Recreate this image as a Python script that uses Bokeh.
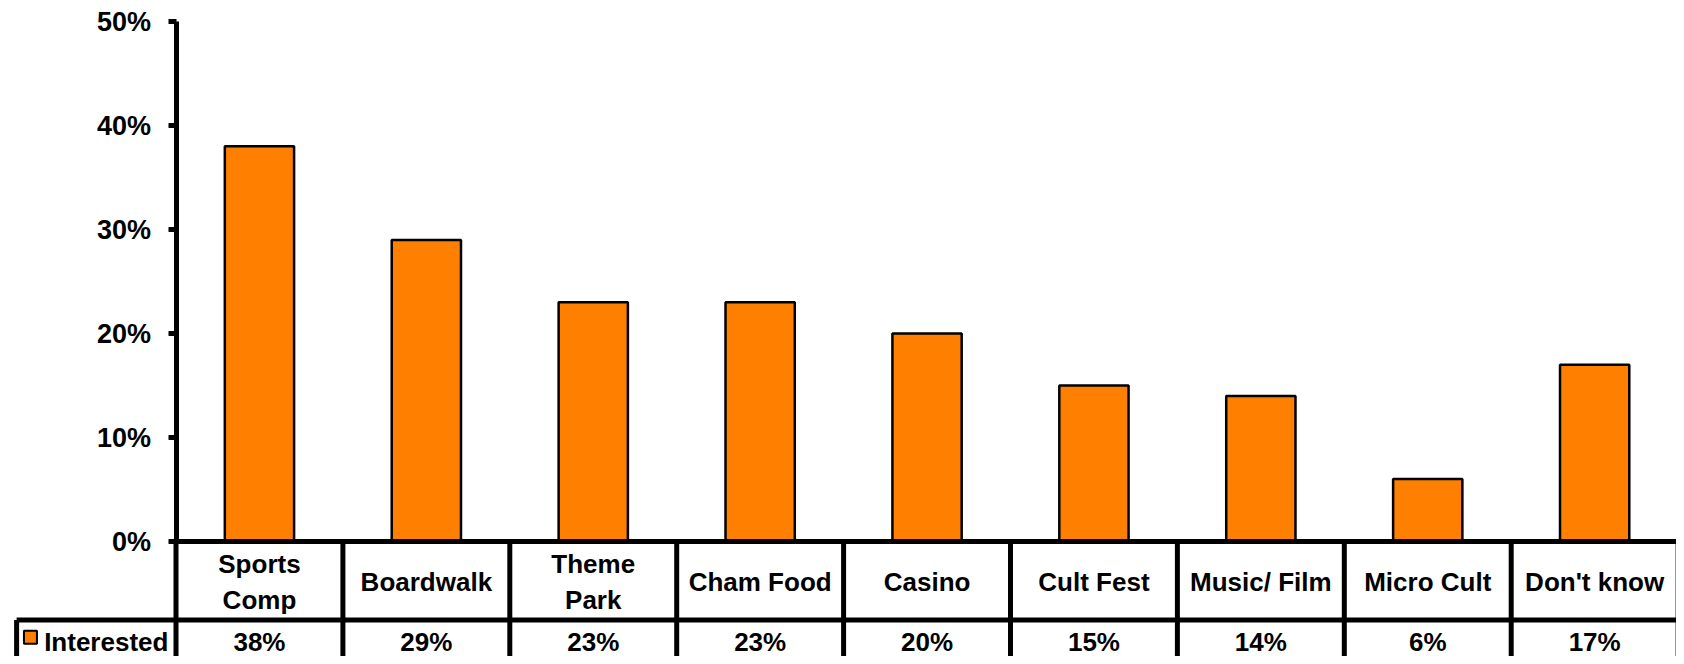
from bokeh.plotting import figure
from bokeh.models import LinearAxis, FixedTicker, CustomJSTickFormatter, Range1d
from bokeh.core.properties import value
from bokeh.embed import file_html
from bokeh.resources import INLINE

categories = ["Sports\nComp", "Boardwalk", "Theme\nPark", "Cham Food", "Casino",
              "Cult Fest", "Music/ Film", "Micro Cult", "Don't know"]
interested = [38, 29, 23, 23, 20, 15, 14, 6, 17]
value_labels = ["38%", "29%", "23%", "23%", "20%", "15%", "14%", "6%", "17%"]
y_ticks = [0, 10, 20, 30, 40, 50]
series_name = "Interested"

ORANGE = "#FF7F00"
FONT = value("Liberation Sans")
W, H = 1676, 656
COL = 166.9          # px per category column
X0 = 175.5           # px position of the value axis
Y0 = 541             # px position of 0 %
PPU = 10.4           # px per percent

p = figure(width=W, height=H, output_backend="svg", toolbar_location=None,
           x_axis_location=None, y_axis_location=None,
           x_range=Range1d(-X0 / COL, (W - X0) / COL),
           y_range=Range1d(-(H - Y0) / PPU, Y0 / PPU),
           min_border=0, outline_line_color=None)
p.grid.grid_line_color = None
p.background_fill_color = "white"
p.border_fill_color = "white"

n = len(categories)
centers = [i + 0.5 for i in range(n)]

# bars
p.vbar(x=centers, top=interested, bottom=0, width=0.415,
       fill_color=ORANGE, line_color="black", line_width=2.5)

# table geometry
row_split = -7.55
bottom = -(H - Y0) / PPU - 1
left_cell = -0.955
lw = 5
# baseline (top of table)
p.segment(x0=[0], y0=[0], x1=[n + 1], y1=[0], line_color="black", line_width=lw)
# horizontal separator between rows
p.segment(x0=[left_cell], y0=[row_split], x1=[n + 1], y1=[row_split], line_color="black", line_width=lw)
# vertical dividers
p.segment(x0=list(range(n + 1)), y0=[0] * (n + 1), x1=list(range(n + 1)), y1=[bottom] * (n + 1),
          line_color="black", line_width=lw)
# left border of legend cell
p.segment(x0=[left_cell], y0=[row_split], x1=[left_cell], y1=[bottom], line_color="black", line_width=lw)

# category labels
p.text(x=centers, y=[-3.85] * n, text=categories, text_align="center", text_baseline="middle",
       text_font=FONT, text_font_style="bold", text_font_size="26px", text_color="black",
       text_line_height=1.2)
# value labels
p.text(x=centers, y=[-9.65] * n, text=value_labels, text_align="center", text_baseline="middle",
       text_font=FONT, text_font_style="bold", text_font_size="26px", text_color="black")

# legend key + series name
p.scatter(x=[-0.872], y=[-9.2], marker="square", size=13, fill_color=ORANGE,
          line_color="black", line_width=2)
p.text(x=[-0.79], y=[-9.65], text=[series_name], text_align="left", text_baseline="middle",
       text_font=FONT, text_font_style="bold", text_font_size="26px", text_color="black")

# value axis
yaxis = LinearAxis(fixed_location=0, bounds=(0, 50),
                   ticker=FixedTicker(ticks=y_ticks),
                   formatter=CustomJSTickFormatter(code="return tick.toFixed(0) + '%';"))
yaxis.axis_line_width = 5
yaxis.axis_line_color = "black"
yaxis.major_tick_line_width = 5
yaxis.major_tick_line_color = "black"
yaxis.major_tick_out = 8
yaxis.major_tick_in = 0
yaxis.minor_tick_line_color = None
yaxis.major_label_standoff = 17
yaxis.major_label_text_font = "Liberation Sans"
yaxis.major_label_text_font_style = "bold"
yaxis.major_label_text_font_size = "27px"
yaxis.major_label_text_color = "black"
p.add_layout(yaxis, "left")

open("out.html", "w").write(file_html(p, INLINE))
